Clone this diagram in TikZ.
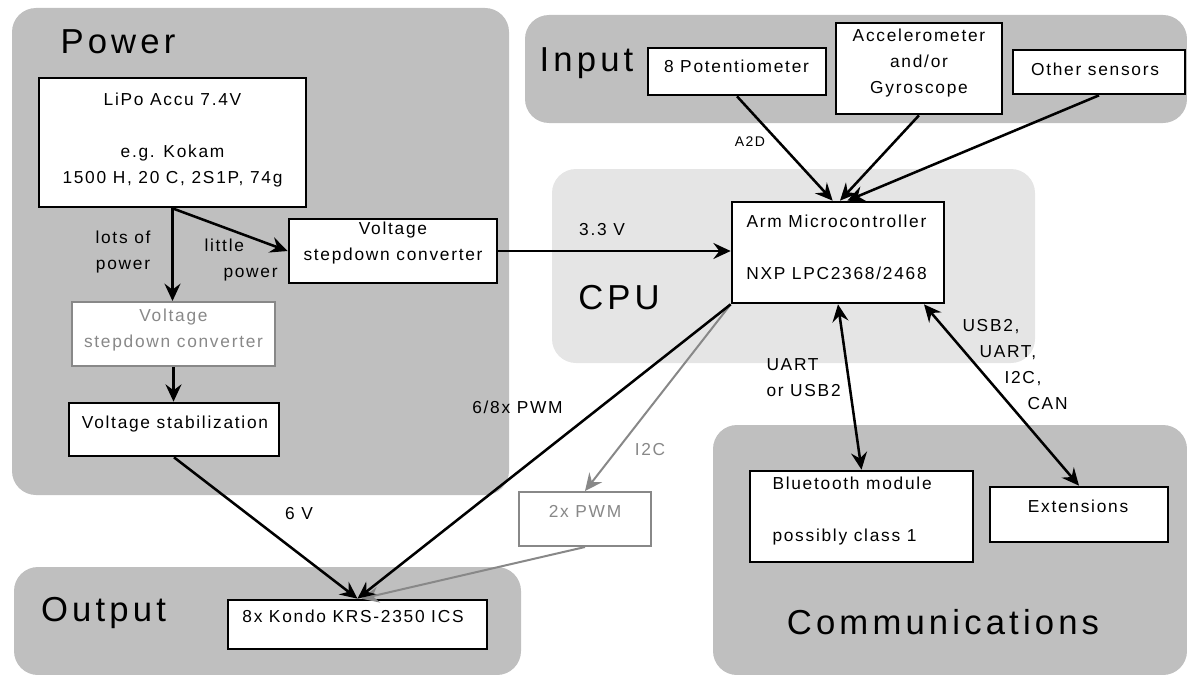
\documentclass[tikz,border=0pt]{standalone}
\usepackage{fontspec}
\setmainfont{Liberation Sans}[LetterSpace=10]
\usetikzlibrary{arrows.meta}

\definecolor{regiongray}{RGB}{191,191,191}
\definecolor{cpugray}{RGB}{229,229,229}
\definecolor{boxgray}{RGB}{136,136,136}

\tikzset{every picture/.style={line width=0.75pt}}
\tikzset{
  region/.style={fill=regiongray, rounded corners=18pt},
  box/.style={draw, line width=2pt, fill=white, inner sep=0pt},
  graybox/.style={box, draw=boxgray, line width=1.5pt},
  boxsize/.style 2 args={minimum width=#1*0.75pt, minimum height=#2*0.75pt},
  txt/.style={font=\fontsize{13}{19.5}\selectfont, align=center, inner sep=0pt},
  bigtxt/.style={font=\fontsize{26}{30}\selectfont\addfontfeatures{LetterSpace=12}, inner sep=0pt},
  smalltxt/.style={font=\fontsize{10.5}{12}\selectfont, inner sep=0pt},
  link/.style={line width=1.9pt, ->},
  graylink/.style={link, draw=boxgray, line width=1.5pt},
  duplex/.style={link, <->},
}

\begin{document}
\begin{tikzpicture}[x=0.75pt,y=0.75pt,yscale=-1,xscale=1,
    >={Stealth[length=13pt,width=12pt,inset=4.5pt]}]
	\clip (0,0) rectangle (1187,674);

	%Regions
	\fill[region] (12,8) rectangle (509,495);
	\fill[region] (525,15) rectangle (1187,123);
	\fill[region, fill=cpugray] (552,169) rectangle (1035,363);
	\fill[region] (14,567) rectangle (521,675);
	\fill[region] (713,425) rectangle (1187,675);

	% Region labels
	\node[bigtxt] (tPower) at (118,42) {Power};
	\node[bigtxt] (tInput) at (586.5,63) {Input};
	\node[bigtxt] (tCpu) at (619,298) {CPU};
	\node[bigtxt] (tOutput) at (103.5,613) {Output};
	\node[bigtxt] (tComm) at (943,622) {Communications};

	%Power boxes
	\node[box, boxsize={267}{129}] (lipo) at (172.5,142.5) {};
	\node[txt] (lipoT) at (172.5,140) {LiPo Accu 7.4V\\[19.5pt]e.g. Kokam\\1500 H, 20 C, 2S1P, 74g};
	\node[box, boxsize={208}{64}] (step) at (393,251) {};
	\node[txt] (stepT) at (393,243) {Voltage\\stepdown converter};
	\node[graybox, boxsize={203}{64}] (gstep) at (173.5,334) {};
	\node[txt, text=boxgray] (gstepT) at (173.5,330) {Voltage\\stepdown converter};
	\node[box, boxsize={210}{53}] (stab) at (174,429.5) {};
	\node[txt] (stabT) at (175,424) {Voltage stabilization};

	%Input boxes
	\node[box, boxsize={178}{47}] (pot) at (737,71.5) {};
	\node[txt] (potT) at (736.5,66) {8 Potentiometer};
	\node[box, boxsize={166}{91}] (acc) at (919,68.5) {};
	\node[txt] (accT) at (919,63) {Accelerometer\\and/or\\Gyroscope};
	\node[box, boxsize={172}{44}] (other) at (1099,72) {};
	\node[txt] (otherT) at (1095,69) {Other sensors};

	%CPU box
	\node[box, boxsize={212}{101}] (arm) at (838,252.5) {};
	\node[txt] (armT) at (836.5,247.5) {Arm Microcontroller\\[19.5pt]NXP LPC2368/2468};

	%Communication boxes
	\node[box, boxsize={223}{91}] (bt) at (861.5,516.5) {};
	\node[txt, align=left, anchor=west] (btT) at (772,511) {Bluetooth module\\[19.5pt]possibly class 1};
	\node[box, boxsize={178}{55}] (ext) at (1079,514.5) {};
	\node[txt] (extT) at (1078,506) {Extensions};

	%Output boxes
	\node[graybox, boxsize={132}{54}] (pwm) at (585,519) {};
	\node[txt, text=boxgray] (pwmT) at (585,511) {2x PWM};
	\node[box, boxsize={259}{49}] (kondo) at (357.5,624.5) {};
	\node[txt] (kondoT) at (353,616) {8x Kondo KRS-2350 ICS};

	%Connectors
	\draw[graylink] (arm.south west) -- (pwm.north);
	\draw[graylink] (pwm.south) -- ([xshift=3pt]kondo.north);
	\draw[link] (lipo.south) -- (lipo.south |- gstep.north);
	\draw[link] (lipo.south) -- (step.west);
	\draw[link] (gstep.south) -- (gstep.south |- stab.north);
	\draw[link] (stab.south) -- (kondo.north);
	\draw[link] (arm.south west) -- (kondo.north);
	\draw[link] (step.east) -- (step.east -| arm.west);
	\draw[link] (pot.south) -- ([xshift=-4pt]arm.north);
	\draw[link] (acc.south) -- ([xshift=1.5pt]arm.north);
	\draw[link] (other.south) -- ([xshift=7pt]arm.north);
	\draw[duplex] (arm.south) -- (bt.north);
	\draw[duplex] ([xshift=-16pt]arm.south east) -- (ext.north);

	% Text Node
	\node[txt] (lblLots) at (123,252.5) {lots of\\power};
	\node[txt, align=left, anchor=west] (lblLittle) at (204,260) {little\\\hspace*{14.25pt}power};
	\node[txt] (lbl33) at (602,230) {3.3 V};
	\node[smalltxt] (lblA2D) at (750,142) {A2D};
	\node[txt] (lbl6V) at (299,514) {6 V};
	\node[txt] (lblPwm) at (517.5,407) {6/8x PWM};
	\node[txt, text=boxgray] (lblI2C) at (650,450) {I2C};
	\node[txt, align=left, anchor=west] (lblUart) at (766,377.5) {UART\\or USB2};
	\node[txt, align=left, anchor=west] (lblBus) at (962,364.5) {USB2,\\\hspace*{12.75pt}UART,\\\hspace*{31.5pt}I2C,\\\hspace*{48.75pt}CAN};

\end{tikzpicture}
\end{document}
